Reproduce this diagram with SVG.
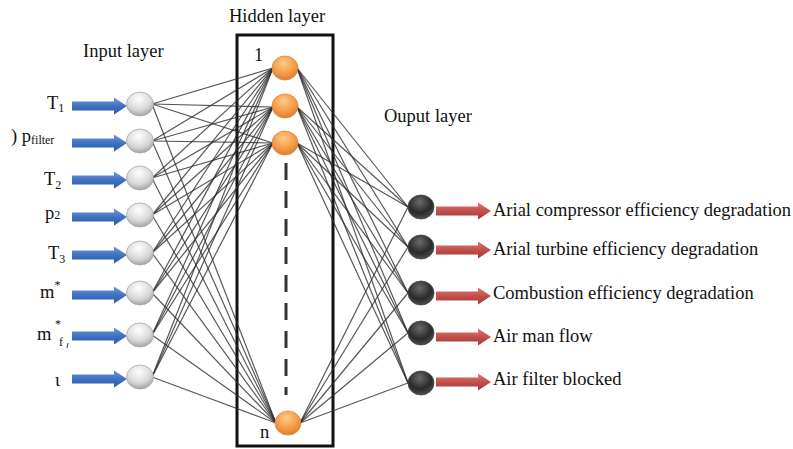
<svg xmlns="http://www.w3.org/2000/svg" width="793" height="449" viewBox="0 0 793 449">
<defs>
<radialGradient id="gIn" cx="0.45" cy="0.3" r="0.75">
<stop offset="0" stop-color="#ffffff"/><stop offset="0.6" stop-color="#d8d8d8"/><stop offset="1" stop-color="#9a9a9a"/>
</radialGradient>
<radialGradient id="gHid" cx="0.45" cy="0.3" r="0.75">
<stop offset="0" stop-color="#ffc98a"/><stop offset="0.6" stop-color="#f39a44"/><stop offset="1" stop-color="#d9782a"/>
</radialGradient>
<radialGradient id="gOut" cx="0.45" cy="0.3" r="0.75">
<stop offset="0" stop-color="#6a6a6a"/><stop offset="0.6" stop-color="#2a2a2a"/><stop offset="1" stop-color="#555555"/>
</radialGradient>
<linearGradient id="gBlue" x1="0" y1="0" x2="0" y2="1">
<stop offset="0" stop-color="#6f9ad8"/><stop offset="0.5" stop-color="#3f72c2"/><stop offset="1" stop-color="#2c5aa3"/>
</linearGradient>
<linearGradient id="gRed" x1="0" y1="0" x2="0" y2="1">
<stop offset="0" stop-color="#e07a76"/><stop offset="0.5" stop-color="#c24f4b"/><stop offset="1" stop-color="#9e3a37"/>
</linearGradient>
<path id="arr" d="M0,-4.5 L42,-4.5 L42,-8.5 L55,0 L42,8.5 L42,4.5 L0,4.5 Z"/>
</defs>
<style>
text{font-family:"Liberation Serif","Times New Roman",serif;fill:#111;}
.t{font-size:18.5px;}
.sub{font-size:12px;}
.conn line{stroke:#2e2e2e;stroke-width:1.2;stroke-opacity:0.8;}
.nin{fill:url(#gIn);stroke:#a8a8a8;stroke-width:0.8;}
.nhid{fill:url(#gHid);stroke:#e0853a;stroke-width:0.8;}
.nout{fill:url(#gOut);stroke:#444;stroke-width:0.8;}
.ba{fill:url(#gBlue);}
.ra{fill:url(#gRed);}
</style>
<rect width="793" height="449" fill="#ffffff"/>

<!-- hidden layer box -->
<g id="hidden-box">
<rect x="237" y="35" width="96" height="411" fill="none" stroke="#111" stroke-width="3"/>
<line x1="286" y1="163" x2="286" y2="395" stroke="#333" stroke-width="3" stroke-dasharray="17 11"/>
</g>

<!-- connectors -->
<g id="connectors" class="conn">
<line x1="152" y1="104" x2="273" y2="68"/><line x1="152" y1="104" x2="273" y2="107"/><line x1="152" y1="104" x2="273" y2="143"/><line x1="152" y1="104" x2="276" y2="423"/>
<line x1="152" y1="141" x2="273" y2="68"/><line x1="152" y1="141" x2="273" y2="107"/><line x1="152" y1="141" x2="273" y2="143"/><line x1="152" y1="141" x2="276" y2="423"/>
<line x1="152" y1="178" x2="273" y2="68"/><line x1="152" y1="178" x2="273" y2="107"/><line x1="152" y1="178" x2="273" y2="143"/><line x1="152" y1="178" x2="276" y2="423"/>
<line x1="152" y1="215" x2="273" y2="68"/><line x1="152" y1="215" x2="273" y2="107"/><line x1="152" y1="215" x2="273" y2="143"/><line x1="152" y1="215" x2="276" y2="423"/>
<line x1="152" y1="253" x2="273" y2="68"/><line x1="152" y1="253" x2="273" y2="107"/><line x1="152" y1="253" x2="273" y2="143"/><line x1="152" y1="253" x2="276" y2="423"/>
<line x1="152" y1="293" x2="273" y2="68"/><line x1="152" y1="293" x2="273" y2="107"/><line x1="152" y1="293" x2="273" y2="143"/><line x1="152" y1="293" x2="276" y2="423"/>
<line x1="152" y1="335" x2="273" y2="68"/><line x1="152" y1="335" x2="273" y2="107"/><line x1="152" y1="335" x2="273" y2="143"/><line x1="152" y1="335" x2="276" y2="423"/>
<line x1="152" y1="377" x2="273" y2="68"/><line x1="152" y1="377" x2="273" y2="107"/><line x1="152" y1="377" x2="273" y2="143"/><line x1="152" y1="377" x2="276" y2="423"/>

<line x1="297" y1="68" x2="408" y2="207"/><line x1="297" y1="68" x2="408" y2="247"/><line x1="297" y1="68" x2="408" y2="293"/><line x1="297" y1="68" x2="408" y2="333"/><line x1="297" y1="68" x2="408" y2="383"/>
<line x1="297" y1="107" x2="408" y2="207"/><line x1="297" y1="107" x2="408" y2="247"/><line x1="297" y1="107" x2="408" y2="293"/><line x1="297" y1="107" x2="408" y2="333"/><line x1="297" y1="107" x2="408" y2="383"/>
<line x1="297" y1="143" x2="408" y2="207"/><line x1="297" y1="143" x2="408" y2="247"/><line x1="297" y1="143" x2="408" y2="293"/><line x1="297" y1="143" x2="408" y2="333"/><line x1="297" y1="143" x2="408" y2="383"/>
<line x1="300" y1="423" x2="408" y2="207"/><line x1="300" y1="423" x2="408" y2="247"/><line x1="300" y1="423" x2="408" y2="293"/><line x1="300" y1="423" x2="408" y2="333"/><line x1="300" y1="423" x2="408" y2="383"/>
</g>

<!-- layer titles -->
<text class="t" x="83" y="57">Input layer</text>
<text class="t" x="229" y="22">Hidden layer</text>
<text class="t" x="384" y="122">Ouput layer</text>
<text class="t" x="254" y="61">1</text>
<text class="t" x="260" y="438">n</text>

<!-- input nodes -->
<g id="in1"><use href="#arr" class="ba" x="72" y="106"/><ellipse class="nin" cx="140" cy="104" rx="13.5" ry="12"/><text class="t" x="47" y="109">T<tspan class="sub" dy="3">1</tspan></text></g>
<g id="in2"><use href="#arr" class="ba" x="72" y="143"/><ellipse class="nin" cx="140" cy="141" rx="13.5" ry="12"/><text class="t" x="11" y="142">) p<tspan class="sub" dy="2">filter</tspan></text></g>
<g id="in3"><use href="#arr" class="ba" x="72" y="180"/><ellipse class="nin" cx="140" cy="178" rx="13.5" ry="12"/><text class="t" x="44" y="185">T<tspan class="sub" dy="4">2</tspan></text></g>
<g id="in4"><use href="#arr" class="ba" x="72" y="217"/><ellipse class="nin" cx="140" cy="215" rx="13.5" ry="12"/><text class="t" x="45" y="219">p<tspan class="sub">2</tspan></text></g>
<g id="in5"><use href="#arr" class="ba" x="72" y="255"/><ellipse class="nin" cx="140" cy="253" rx="13.5" ry="12"/><text class="t" x="48" y="259">T<tspan class="sub" dy="4">3</tspan></text></g>
<g id="in6"><use href="#arr" class="ba" x="72" y="295"/><ellipse class="nin" cx="140" cy="293" rx="13.5" ry="12"/><text class="t" x="40" y="298">m<tspan class="sub" dy="-9">*</tspan></text></g>
<g id="in7"><use href="#arr" class="ba" x="72" y="336"/><ellipse class="nin" cx="140" cy="335" rx="13.5" ry="12"/><text class="t" x="37" y="340">m</text><text class="sub" x="55" y="328">*</text><text class="sub" x="59" y="346">f</text><path d="M68,343 L67,348" stroke="#556" stroke-width="1.2"/></g>
<g id="in8"><use href="#arr" class="ba" x="72" y="379"/><ellipse class="nin" cx="140" cy="377" rx="13.5" ry="12"/><text class="t" x="55" y="386">ι</text></g>

<!-- hidden nodes -->
<g id="h1"><ellipse class="nhid" cx="285" cy="68" rx="13" ry="12"/></g>
<g id="h2"><ellipse class="nhid" cx="285" cy="106" rx="13" ry="12"/></g>
<g id="h3"><ellipse class="nhid" cx="285" cy="143" rx="13" ry="12"/></g>
<g id="hn"><ellipse class="nhid" cx="288" cy="423" rx="13" ry="12"/></g>

<!-- output nodes -->
<g id="o1"><use href="#arr" class="ra" x="436" y="211"/><ellipse class="nout" cx="421" cy="207" rx="13" ry="12"/><text class="t" x="493" y="216">Arial compressor efficiency degradation</text></g>
<g id="o2"><use href="#arr" class="ra" x="436" y="250"/><ellipse class="nout" cx="421" cy="247" rx="13" ry="12"/><text class="t" x="493" y="255">Arial turbine efficiency degradation</text></g>
<g id="o3"><use href="#arr" class="ra" x="436" y="296"/><ellipse class="nout" cx="421" cy="293" rx="13" ry="12"/><text class="t" x="493" y="299">Combustion efficiency degradation</text></g>
<g id="o4"><use href="#arr" class="ra" x="436" y="337"/><ellipse class="nout" cx="421" cy="333" rx="13" ry="12"/><text class="t" x="493" y="342">Air man flow</text></g>
<g id="o5"><use href="#arr" class="ra" x="436" y="382"/><ellipse class="nout" cx="421" cy="383" rx="13" ry="12"/><text class="t" x="493" y="385">Air filter blocked</text></g>
</svg>
